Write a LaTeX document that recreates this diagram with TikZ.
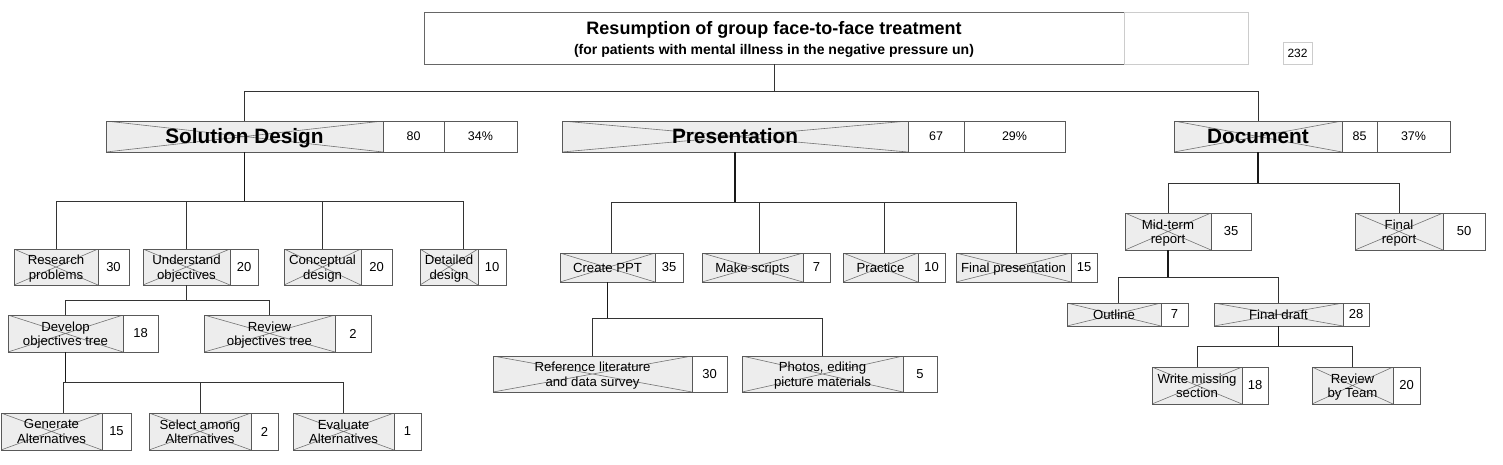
\documentclass[tikz,border=0pt]{standalone}
\usepackage{fontspec}
\setmainfont{Liberation Sans}
\usetikzlibrary{calc}
\tikzset{
  wb/.style={draw=black!65, fill=black!7, inner sep=0pt, outer sep=0pt, align=center,
    font=\fontsize{13.2}{14.5}\selectfont, text depth=0pt,
    path picture={\draw[black!55, line width=0.6pt]
      (path picture bounding box.south west) -- (path picture bounding box.north east)
      (path picture bounding box.north west) -- (path picture bounding box.south east);}},
  nb/.style={draw=black!65, fill=white, inner sep=0pt, outer sep=0pt, align=center,
    font=\fontsize{13}{15}\selectfont},
  topwb/.style={wb, font=\fontsize{20.8}{24}\selectfont\bfseries, text height=14pt, text depth=0pt},
  topnb/.style={nb, font=\fontsize{12.5}{15}\selectfont},
  conn/.style={draw=black!80, line width=0.8pt},
  trunk/.style={draw=black!90, line width=1.3pt}
}
\newcommand\wbsbox[8]{%
  \node[wb, minimum width={#3-#2}, minimum height={#6-#5}] (#1) at ({(#2+#3)/2},{(#5+#6)/2}) {#7};
  \node[nb, minimum width={#4-#3}, minimum height={#6-#5}] (#1n) at ({(#3+#4)/2},{(#5+#6)/2}) {#8};
}
\begin{document}
\begin{tikzpicture}[x=1pt,y=-1pt]
\useasboundingbox[fill=white] (0,0) rectangle (1503,464);

% title
\node[draw=black!60, fill=white, inner sep=0pt, outer sep=0pt, minimum width=700, minimum height=52, align=center,
  font=\fontsize{18}{19.5}\selectfont\bfseries, text depth=0pt]
  (title) at (774,38) {Resumption of group face-to-face treatment\\
  {\fontsize{14}{19.5}\selectfont (for patients with mental illness in the negative pressure un)}};
\node[draw=black!20, fill=white, inner sep=0pt, outer sep=0pt, minimum width=124, minimum height=52] (tside) at (1186,38) {};
\node[draw=black!20, fill=white, inner sep=0pt, outer sep=0pt, minimum width=29, minimum height=22,
  font=\fontsize{12}{14}\selectfont] (total) at (1297.5,53) {232};

% level 1
\node[topwb, minimum width=277, minimum height=31] (sd) at (244.5,136.5) {Solution Design};
\node[topnb, minimum width=61, minimum height=31] (sdn) at (413.5,136.5) {80};
\node[topnb, minimum width=73, minimum height=31] (sdp) at (480.5,136.5) {34\%};
\node[topwb, minimum width=346, minimum height=31] (pr) at (735,136.5) {Presentation};
\node[topnb, minimum width=56, minimum height=31] (prn) at (936,136.5) {67};
\node[topnb, minimum width=101, minimum height=31] (prp) at (1014.5,136.5) {29\%};
\node[topwb, minimum width=168, minimum height=31] (dc) at (1258,136.5) {Document};
\node[topnb, minimum width=35, minimum height=31] (dcn) at (1359.5,136.5) {85};
\node[topnb, minimum width=73, minimum height=31] (dcp) at (1413.5,136.5) {37\%};

% solution design subtree
\wbsbox{rp}{14}{98}{129}{249}{285}{Research\\problems}{30}
\wbsbox{uo}{143}{230}{258}{249}{285}{Understand\\objectives}{20}
\wbsbox{cd}{284}{361}{392}{249}{285}{Conceptual\\design}{20}
\wbsbox{dd}{420}{478}{506}{249}{285}{Detailed\\design}{10}
\wbsbox{dt}{8}{123}{158}{315}{352}{Develop\\objectives tree}{18}
\wbsbox{rt}{204}{335}{371}{315}{352}{Review\\objectives tree}{2}
\wbsbox{ga}{1}{102}{131}{413}{450}{Generate\\Alternatives}{15}
\wbsbox{sa}{149}{251}{278}{413}{450}{Select among\\Alternatives}{2}
\wbsbox{ea}{293}{394}{421}{413}{450}{Evaluate\\Alternatives}{1}

% presentation subtree
\wbsbox{cp}{560}{655}{683}{253}{282}{Create PPT}{35}
\wbsbox{ms}{702}{803}{830}{253}{282}{Make scripts}{7}
\wbsbox{pc}{843}{918}{945}{253}{282}{Practice}{10}
\wbsbox{fp}{956}{1071}{1097}{253}{282}{Final presentation}{15}
\wbsbox{rl}{493}{692}{727}{356}{392}{Reference literature\\and data survey}{30}
\wbsbox{ph}{742}{903}{937}{356}{392}{Photos, editing\\picture materials}{5}

% document subtree
\wbsbox{mt}{1125}{1211}{1251}{213}{250}{Mid-term\\report}{35}
\wbsbox{fr}{1355}{1443}{1485}{213}{250}{Final\\report}{50}
\wbsbox{ol}{1067}{1161}{1188}{303}{326}{Outline}{7}
\wbsbox{fd}{1214}{1343}{1369}{303}{326}{Final draft}{28}
\wbsbox{wm}{1152}{1242}{1268}{367}{404}{Write missing\\section}{18}
\wbsbox{rv}{1312}{1393}{1420}{367}{404}{Review\\by Team}{20}

% bus coordinates
\coordinate (b0) at (0,91);
\coordinate (b1) at (0,201);
\coordinate (b2) at (0,300);
\coordinate (b3) at (0,382);
\coordinate (b4) at (0,202);
\coordinate (b5) at (0,318);
\coordinate (b6) at (0,183);
\coordinate (b7) at (0,277);
\coordinate (b8) at (0,346);

% title connectors
\draw[conn] (title.south) -- (title.south |- b0);
\draw[conn] (sd.north |- b0) -- (dc.north |- b0);
\draw[conn] (sd.north |- b0) -- (sd.north);
\draw[conn] (dc.north |- b0) -- (dc.north);

% solution design
\draw[trunk] (sd.south) -- (sd.south |- b1);
\coordinate (ddc) at ($(dd.north)+(14,0)$);
\draw[conn] (rp.north |- b1) -- (ddc |- b1);
\foreach \n in {rp,uo,cd} \draw[conn] (\n.north |- b1) -- (\n.north);
\draw[conn] (ddc |- b1) -- (ddc);
\draw[conn] (uo.south) -- (uo.south |- b2);
\draw[conn] (dt.north |- b2) -- (rt.north |- b2);
\draw[conn] (dt.north |- b2) -- (dt.north);
\draw[conn] (rt.north |- b2) -- (rt.north);
\draw[trunk] (dt.south) -- (dt.south |- b3);
\coordinate (gac) at ($(ga.north)+(11.5,0)$);
\draw[conn] (gac |- b3) -- (ea.north |- b3);
\draw[conn] (gac |- b3) -- (gac);
\draw[conn] (sa.north |- b3) -- (sa.north);
\draw[conn] (ea.north |- b3) -- (ea.north);

% presentation
\draw[trunk] (pr.south) -- (pr.south |- b4);
\coordinate (cpc) at ($(cp.north)+(3.5,0)$);
\coordinate (msc) at ($(ms.north)+(6.5,0)$);
\coordinate (pcc) at ($(pc.north)+(3.5,0)$);
\coordinate (fpc) at ($(fp.north)+(2.5,0)$);
\draw[conn] (cpc |- b4) -- (fpc |- b4);
\foreach \n in {cpc,msc,pcc,fpc} \draw[conn] (\n |- b4) -- (\n);
\draw[trunk] (cp.south) -- (cp.south |- b5);
\draw[conn] (rl.north |- b5) -- (ph.north |- b5);
\draw[conn] (rl.north |- b5) -- (rl.north);
\draw[conn] (ph.north |- b5) -- (ph.north);

% document
\draw[trunk] (dc.south) -- (dc.south |- b6);
\draw[conn] (mt.north |- b6) -- (fr.north |- b6);
\draw[conn] (mt.north |- b6) -- (mt.north);
\draw[conn] (fr.north |- b6) -- (fr.north);
\draw[trunk] (mt.south) -- (mt.south |- b7);
\coordinate (olc) at ($(ol.north)+(4,0)$);
\draw[conn] (olc |- b7) -- (fd.north |- b7);
\draw[conn] (olc |- b7) -- (olc);
\draw[conn] (fd.north |- b7) -- (fd.north);
\draw[trunk] (fd.south) -- (fd.south |- b8);
\draw[conn] (wm.north |- b8) -- (rv.north |- b8);
\draw[conn] (wm.north |- b8) -- (wm.north);
\draw[conn] (rv.north |- b8) -- (rv.north);
\end{tikzpicture}
\end{document}
